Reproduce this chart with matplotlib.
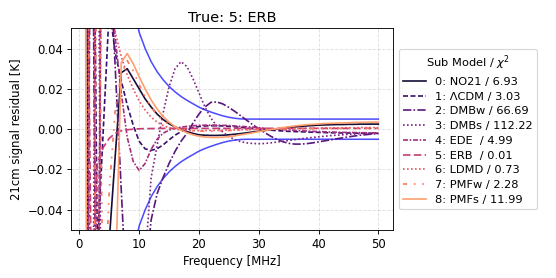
import numpy as np
import matplotlib
matplotlib.use("Agg")
import matplotlib.pyplot as plt

# frequency grid (MHz)
freq = np.arange(1, 51)

# envelope of allowed residual (plotted as +/-)
sigma = [10.0, 2.2, 0.9, 0.45, 0.26, 0.165, 0.112, 0.08, 0.061, 0.048,
         0.040, 0.0335, 0.0285, 0.0245, 0.0212, 0.0185, 0.0162, 0.0143, 0.0126, 0.0109,
         0.0096, 0.0085, 0.0075, 0.0066, 0.0059, 0.0054, 0.0051, 0.005, 0.005, 0.005,
         0.005, 0.005, 0.005, 0.005, 0.005, 0.005, 0.005, 0.005, 0.005, 0.005,
         0.005, 0.005, 0.005, 0.005, 0.005, 0.005, 0.005, 0.005, 0.005, 0.005]

no21 = [0.35, -0.6, -0.45, -0.25, -0.055, -0.013, 0.028, 0.030, 0.025, 0.020,
        0.015, 0.011, 0.0075, 0.0048, 0.0027, 0.0011, -0.0002, -0.0012, -0.0021, -0.0028,
        -0.003, -0.0031, -0.0031, -0.003, -0.0028, -0.0025, -0.0022, -0.0018, -0.0014, -0.001,
        -0.0007, -0.0003, 0.0001, 0.0005, 0.0008, 0.0011, 0.0014, 0.0016, 0.0018, 0.002,
        0.0021, 0.0022, 0.0023, 0.0023, 0.0024, 0.0024, 0.0025, 0.0025, 0.0025, 0.0025]

lcdm = [0.4, 0.25, -0.06, 0.0, 0.06, 0.038, 0.024, 0.012, 0.002, -0.006,
        -0.0098, -0.0105, -0.0097, -0.0078, -0.0053, -0.003, -0.0012, 0.0, 0.0008, 0.0013,
        0.0016, 0.0017, 0.0017, 0.0016, 0.0014, 0.0012, 0.0009, 0.0006, 0.0003, 0.0,
        -0.0003, -0.0005, -0.0007, -0.0009, -0.0011, -0.0012, -0.0013, -0.0014, -0.0015, -0.0016,
        -0.0017, -0.0018, -0.0018, -0.0019, -0.0019, -0.002, -0.002, -0.002, -0.0021, -0.0021]

dmbw = [-0.3, 0.2, -0.2, 0.3, 0.09, 0.03, -0.03, -0.09, -0.12, -0.11,
        -0.075, -0.045, -0.032, -0.024, -0.017, -0.011, -0.006, -0.002, 0.003, 0.0075,
        0.011, 0.0133, 0.0135, 0.0125, 0.0108, 0.0088, 0.0066, 0.0044, 0.0022, 0.0002,
        -0.0017, -0.0035, -0.005, -0.0062, -0.007, -0.0074, -0.0074, -0.0072, -0.0068, -0.0063,
        -0.0058, -0.0053, -0.0048, -0.0043, -0.0038, -0.0034, -0.003, -0.0027, -0.0024, -0.0022]

dmbs = [0.3, -0.2, 0.2, -0.3, -0.25, -0.2, -0.16, -0.13, -0.11, -0.09,
        -0.065, -0.024, -0.008, 0.008, 0.021, 0.030, 0.0335, 0.031, 0.025, 0.018,
        0.011, 0.0055, 0.0015, -0.0015, -0.0037, -0.0052, -0.0062, -0.0068, -0.0071, -0.0072,
        -0.0071, -0.0068, -0.0064, -0.006, -0.0056, -0.0052, -0.0048, -0.0044, -0.0041, -0.0038,
        -0.0035, -0.0032, -0.003, -0.0028, -0.0026, -0.0024, -0.0022, -0.0021, -0.002, -0.0019]

ede = [-0.4, 0.3, -0.2, 0.25, 0.08, 0.045, 0.018, -0.004, -0.016, -0.0205,
       -0.017, -0.010, -0.005, -0.002, -0.0005, 0.0005, 0.001, 0.0014, 0.0017, 0.0019,
       0.002, 0.002, 0.002, 0.0019, 0.0018, 0.0016, 0.0014, 0.0012, 0.001, 0.0007,
       0.0004, 0.0002, 0.0, -0.0002, -0.0004, -0.0006, -0.0008, -0.0009, -0.0011, -0.0012,
       -0.0013, -0.0014, -0.0015, -0.0016, -0.0016, -0.0017, -0.0017, -0.0018, -0.0018, -0.0018]

erb = [0.2, -0.08, -0.017, -0.009, -0.0045, -0.002, -0.0008, -0.0003, 0.0, 0.0002,
       0.0003, 0.0003, 0.0004, 0.0004, 0.0004, 0.0004, 0.0004, 0.0004, 0.0004, 0.0004,
       0.0004, 0.0004, 0.0004, 0.0004, 0.0004, 0.0004, 0.0004, 0.0004, 0.0004, 0.0004,
       0.0004, 0.0004, 0.0004, 0.0004, 0.0004, 0.0004, 0.0004, 0.0004, 0.0004, 0.0004,
       0.0004, 0.0004, 0.0004, 0.0004, 0.0004, 0.0004, 0.0004, 0.0004, 0.0004, 0.0004]

ldmd = [-0.2, 0.3, -0.15, 0.2, 0.08, 0.048, 0.036, 0.027, 0.020, 0.014,
        0.0095, 0.006, 0.0035, 0.0018, 0.0007, 0.0, -0.0004, -0.0006, -0.0007, -0.0007,
        -0.0007, -0.0006, -0.0006, -0.0005, -0.0004, -0.0004, -0.0003, -0.0002, -0.0002, -0.0001,
        0.0, 0.0001, 0.0001, 0.0002, 0.0003, 0.0003, 0.0004, 0.0004, 0.0005, 0.0005,
        0.0006, 0.0006, 0.0006, 0.0007, 0.0007, 0.0007, 0.0008, 0.0008, 0.0008, 0.0008]

pmfw = [0.5, -0.3, 0.15, -0.1, -0.03, 0.01, 0.027, 0.034, 0.029, 0.022,
        0.016, 0.011, 0.007, 0.0043, 0.0024, 0.0011, 0.0002, -0.0004, -0.0008, -0.001,
        -0.001, -0.001, -0.0009, -0.0008, -0.0007, -0.0006, -0.0005, -0.0004, -0.0003, -0.0002,
        -0.0001, 0.0, 0.0, 0.0001, 0.0001, 0.0002, 0.0002, 0.0003, 0.0003, 0.0003,
        0.0004, 0.0004, 0.0004, 0.0004, 0.0005, 0.0005, 0.0005, 0.0005, 0.0005, 0.0005]

pmfs = [0.1, -0.9, -0.5, -0.3, -0.2, -0.08, 0.033, 0.0375, 0.0325, 0.026,
        0.020, 0.0145, 0.010, 0.0063, 0.0035, 0.0012, -0.0005, -0.0018, -0.0028, -0.0035,
        -0.0039, -0.0041, -0.0041, -0.004, -0.0037, -0.0033, -0.0028, -0.0023, -0.0018, -0.0012,
        -0.0007, -0.0002, 0.0003, 0.0008, 0.0012, 0.0016, 0.0019, 0.0022, 0.0024, 0.0026,
        0.0028, 0.0029, 0.003, 0.0031, 0.0032, 0.0033, 0.0034, 0.0034, 0.0035, 0.0035]

models = [no21, lcdm, dmbw, dmbs, ede, erb, ldmd, pmfw, pmfs]
labels = ["0: NO21 / 6.93", "1: \u039bCDM / 3.03", "2: DMBw / 66.69", "3: DMBs / 112.22",
          "4: EDE  / 4.99", "5: ERB  / 0.01", "6: LDMD / 0.73", "7: PMFw / 2.28",
          "8: PMFs / 11.99"]
styles = ["-", (0, (3, 1.5)), (0, (5, 1.3, 1, 1.3)), (0, (1, 1.4)), (0, (3, 1, 1, 1)),
          (0, (4.5, 2)), (0, (1, 1.4)), (0, (2.5, 4, 1, 4, 1, 4)), "-"]
colors = plt.cm.magma(np.linspace(0.1, 0.8, 9))

plt.rcParams["font.size"] = 10.5

fig = plt.figure(figsize=(6.95, 3.475), dpi=80)
ax = fig.add_axes([0.1272, 0.1727, 0.5796, 0.7253])

sig = np.array(sigma)
ax.plot(freq, sig, color="blue", alpha=0.7, lw=1.4)
ax.plot(freq, -sig, color="blue", alpha=0.7, lw=1.4)

for vals, lab, ls, c in zip(models, labels, styles, colors):
    ax.plot(freq, vals, ls=ls, color=c, lw=1.5, label=lab)

ax.set_ylim(-0.05, 0.05)
ax.set_yticks([-0.04, -0.02, 0.0, 0.02, 0.04])
ax.set_xticks([0, 10, 20, 30, 40, 50])
ax.grid(True, linestyle="--", alpha=0.4)
ax.set_title("True: 5: ERB", fontsize=13)
ax.set_xlabel("Frequency [MHz]")
ax.set_ylabel("21cm signal residual [K]")
ax.legend(title="Sub Model / $\\chi^2$", loc="center left", bbox_to_anchor=(1.0, 0.5),
          fontsize=10.2, title_fontsize=10.2, labelspacing=0.42)

fig.savefig("out.png", dpi=80)
